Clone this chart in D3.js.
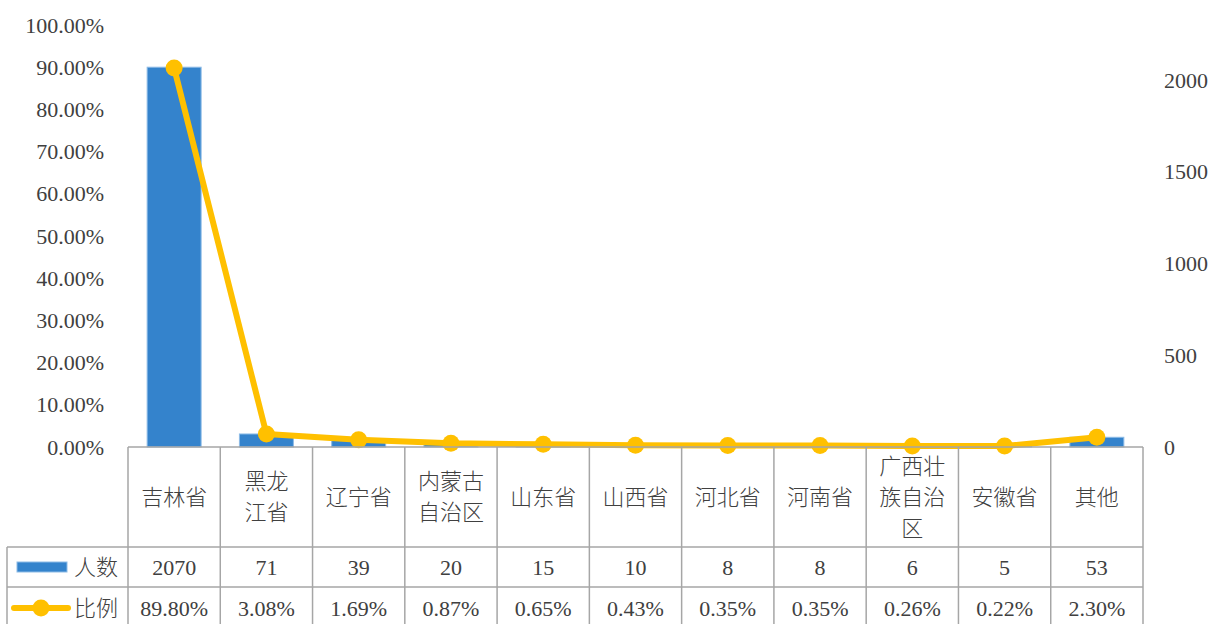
<!DOCTYPE html>
<html>
<head>
<meta charset="utf-8">
<title>各省人数与比例</title>
<script src="https://d3js.org/d3.v7.min.js"></script>
<style>
  body { margin: 0; background: #fff; }
  text { font-family: "Liberation Serif", "Times New Roman", "Noto Sans CJK SC", serif; fill: #404040; }
  .cjk { font-weight: 300; }
</style>
</head>
<body>
<svg width="1215" height="624"></svg>
<script>
// data
var categories = ["吉林省", "黑龙江省", "辽宁省", "内蒙古自治区", "山东省", "山西省", "河北省", "河南省", "广西壮族自治区", "安徽省", "其他"];
var categoryLabels = ["吉林省", "黑龙\n江省", "辽宁省", "内蒙古\n自治区", "山东省", "山西省", "河北省", "河南省", "广西壮\n族自治\n区", "安徽省", "其他"];
var counts = [2070, 71, 39, 20, 15, 10, 8, 8, 6, 5, 53];
var ratios = [0.898, 0.0308, 0.0169, 0.0087, 0.0065, 0.0043, 0.0035, 0.0035, 0.0026, 0.0022, 0.023];
var leftTicks = [0, 0.1, 0.2, 0.3, 0.4, 0.5, 0.6, 0.7, 0.8, 0.9, 1.0];
var rightTicks = [0, 500, 1000, 1500, 2000];
var seriesNames = ["人数", "比例"];

var blue = "#3483cc", yellow = "#ffc000", gridColor = "#a6a6a6";
var fontSize = 22;

var svg = d3.select("svg");

// plot area
var plotLeft = 128, plotRight = 1143, plotTop = 25, base = 447;
var tableLeft = 7;
var rowCat = 547, rowCount = 587, rowRatio = 627;

var x = d3.scaleBand().domain(categories).range([plotLeft, plotRight]).padding(0);
var yLeft = d3.scaleLinear().domain([0, 1]).range([base, plotTop]);
var yRight = d3.scaleLinear().domain([0, 2300]).range([base, plotTop]);

// left axis (比例)
var axL = svg.append("g")
    .attr("transform", "translate(" + plotLeft + ",0)")
    .call(d3.axisLeft(yLeft).tickValues(leftTicks).tickFormat(d3.format(".2%")).tickSize(0).tickPadding(24));
axL.select(".domain").remove();
axL.selectAll("text").style("font-size", fontSize + "px").attr("fill", "#404040")
    .style("font-family", '"Liberation Serif", serif');

// right axis (人数)
var axR = svg.append("g")
    .attr("transform", "translate(" + plotRight + ",0)")
    .call(d3.axisRight(yRight).tickValues(rightTicks).tickFormat(d3.format("d")).tickSize(0).tickPadding(21));
axR.select(".domain").remove();
axR.selectAll("text").style("font-size", fontSize + "px").attr("fill", "#404040")
    .style("font-family", '"Liberation Serif", serif');

// bars
var barW = x.bandwidth() * 0.585;
svg.selectAll(".bar")
    .data(categories)
    .enter().append("rect")
    .attr("class", "bar")
    .attr("x", function (d) { return x(d) + (x.bandwidth() - barW) / 2; })
    .attr("y", function (d, i) { return yRight(counts[i]); })
    .attr("width", barW)
    .attr("height", function (d, i) { return base - yRight(counts[i]); })
    .attr("fill", blue)
    .attr("stroke", "#8dbbe6")
    .attr("stroke-width", 1);

// line
var line = d3.line()
    .x(function (d, i) { return x(categories[i]) + x.bandwidth() / 2; })
    .y(function (d) { return yLeft(d); });

svg.append("path")
    .datum(ratios)
    .attr("d", line)
    .attr("fill", "none")
    .attr("stroke", yellow)
    .attr("stroke-width", 6)
    .attr("stroke-linejoin", "round");

svg.selectAll(".dot")
    .data(ratios)
    .enter().append("circle")
    .attr("class", "dot")
    .attr("cx", function (d, i) { return x(categories[i]) + x.bandwidth() / 2; })
    .attr("cy", function (d) { return yLeft(d); })
    .attr("r", 8.5)
    .attr("fill", yellow);

// data table
var grid = svg.append("g")
    .attr("stroke", gridColor)
    .attr("stroke-width", 1.5)
    .attr("fill", "none");

grid.append("line").attr("x1", plotLeft).attr("x2", plotRight).attr("y1", base).attr("y2", base);
grid.append("line").attr("x1", tableLeft).attr("x2", plotRight).attr("y1", rowCat).attr("y2", rowCat);
grid.append("line").attr("x1", tableLeft).attr("x2", plotRight).attr("y1", rowCount).attr("y2", rowCount);
grid.append("line").attr("x1", tableLeft).attr("x2", plotRight).attr("y1", rowRatio).attr("y2", rowRatio);
grid.append("line").attr("x1", tableLeft).attr("x2", tableLeft).attr("y1", rowCat).attr("y2", rowRatio);

var edges = categories.map(function (d) { return x(d); }).concat([plotRight]);
grid.selectAll(".col")
    .data(edges)
    .enter().append("line")
    .attr("x1", function (d) { return d; })
    .attr("x2", function (d) { return d; })
    .attr("y1", base)
    .attr("y2", rowRatio);

// category labels
var lineGap = 31;
categoryLabels.forEach(function (lab, i) {
    var lines = lab.split("\n");
    var cx = x(categories[i]) + x.bandwidth() / 2;
    var cy = (base + rowCat) / 2;
    var t = svg.append("text")
        .attr("class", "cjk")
        .attr("text-anchor", "middle")
        .style("font-size", fontSize + "px");
    lines.forEach(function (s, j) {
        t.append("tspan")
            .attr("x", cx)
            .attr("y", cy + (j - (lines.length - 1) / 2) * lineGap)
            .attr("dy", "0.36em")
            .text(s);
    });
});

// value rows
var fmtPct = d3.format(".2%");
svg.selectAll(".cnt")
    .data(counts)
    .enter().append("text")
    .attr("x", function (d, i) { return x(categories[i]) + x.bandwidth() / 2; })
    .attr("y", (rowCat + rowCount) / 2)
    .attr("dy", "0.35em")
    .attr("text-anchor", "middle")
    .style("font-size", fontSize + "px")
    .text(function (d) { return d; });

svg.selectAll(".pct")
    .data(ratios)
    .enter().append("text")
    .attr("x", function (d, i) { return x(categories[i]) + x.bandwidth() / 2; })
    .attr("y", (rowCount + rowRatio) / 2 + 1)
    .attr("dy", "0.35em")
    .attr("text-anchor", "middle")
    .style("font-size", fontSize + "px")
    .text(function (d) { return fmtPct(d); });

// legend keys in the table
var cyCount = (rowCat + rowCount) / 2, cyRatio = (rowCount + rowRatio) / 2 + 1;
svg.append("rect")
    .attr("x", 17).attr("y", cyCount - 5)
    .attr("width", 50).attr("height", 10)
    .attr("fill", blue).attr("stroke", "#8dbbe6").attr("stroke-width", 1);
svg.append("line")
    .attr("x1", 14).attr("x2", 68).attr("y1", cyRatio).attr("y2", cyRatio)
    .attr("stroke", yellow).attr("stroke-width", 6).attr("stroke-linecap", "round");
svg.append("circle")
    .attr("cx", 41).attr("cy", cyRatio).attr("r", 8.5).attr("fill", yellow);

svg.append("text").attr("class", "cjk").attr("x", 74).attr("y", cyCount).attr("dy", "0.36em")
    .style("font-size", fontSize + "px").text(seriesNames[0]);
svg.append("text").attr("class", "cjk").attr("x", 74).attr("y", cyRatio).attr("dy", "0.36em")
    .style("font-size", fontSize + "px").text(seriesNames[1]);
</script>
</body>
</html>
